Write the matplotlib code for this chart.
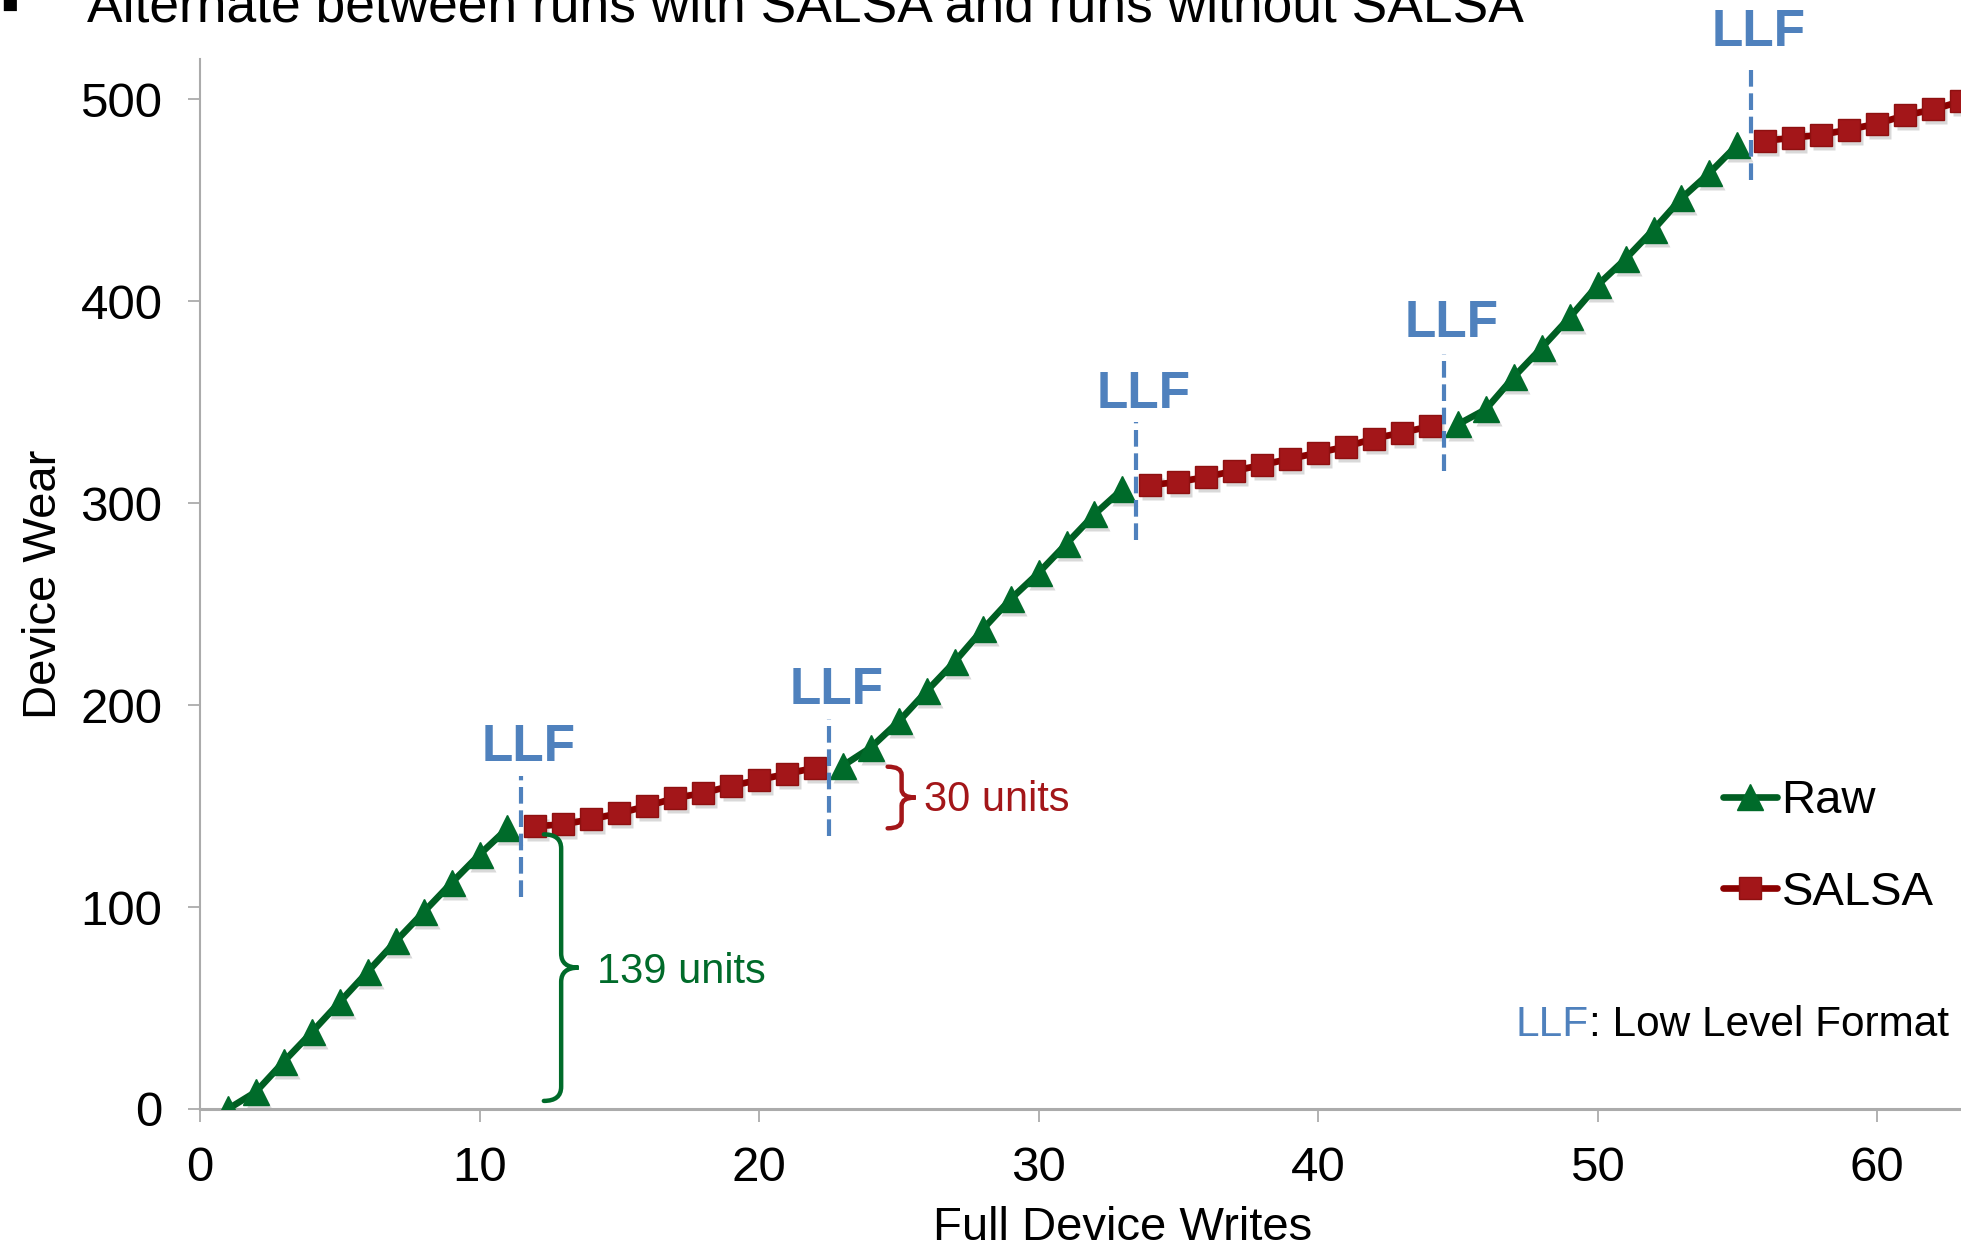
import numpy as np
import matplotlib
matplotlib.use("Agg")
import matplotlib.pyplot as plt
from matplotlib.path import Path
from matplotlib.patches import PathPatch
from matplotlib import transforms

plt.rcParams['font.family'] = ['Liberation Sans', 'DejaVu Sans']

# data
writes = np.arange(1, 64)
wear = np.array([
    0, 8.5, 23.5, 38, 53, 68, 83, 97.5, 112, 126, 139,              # raw
    140, 141, 143.5, 146.5, 150, 154, 156.5, 160, 163, 166, 169,    # salsa
    170, 179, 192, 207, 221.5, 237.5, 252.5, 265.5, 280, 294.5, 307,  # raw
    309, 310.5, 313, 316, 319, 322, 325, 328, 332, 335, 338,        # salsa
    339, 346.5, 362.5, 377, 392, 408, 421, 435.5, 451, 463.5, 477.5,  # raw
    479.5, 481, 482.5, 485, 488, 492, 495, 499,                     # salsa
])
salsa_on = np.array([0]*11 + [1]*11 + [0]*11 + [1]*11 + [0]*11 + [1]*8, dtype=bool)

llf_x = [11.5, 22.5, 33.5, 44.5, 55.5]
llf_lo = [105, 135, 282, 316, 460]
llf_hi = [165, 193, 340, 374, 516]
llf_label_y = [179, 207, 354, 389, 533]

x_ticks = [0, 10, 20, 30, 40, 50, 60]
y_ticks = [0, 100, 200, 300, 400, 500]

GREEN = '#006B2A'
GREEN_LINE = '#005E22'
RED = '#A31619'
RED_LINE = '#8B0000'
BLUE = '#4F81BD'
GRAY = '#ABABAB'

raw = np.where(~salsa_on, wear, np.nan)
salsa = np.where(salsa_on, wear, np.nan)

fig = plt.figure(figsize=(19.61, 12.49), dpi=100)
ax = fig.add_axes([0.102, 0.1121, 0.898, 0.8407])

# soft marker shadows
shadow = transforms.offset_copy(ax.transData, fig=fig, x=3, y=-4, units='dots')
ax.plot(writes, raw, ls='none', marker='^', ms=19, color='#000000', alpha=0.15,
        mec='none', transform=shadow, zorder=2)
ax.plot(writes, salsa, ls='none', marker='s', ms=16.5, color='#000000', alpha=0.15,
        mec='none', transform=shadow, zorder=2)

ax.plot(writes, raw, color=GREEN_LINE, lw=4.8, marker='^', ms=19, mfc=GREEN,
        mec=GREEN, label='Raw', zorder=3, solid_capstyle='round')
ax.plot(writes, salsa, color=RED_LINE, lw=4.8, marker='s', ms=16.5, mfc=RED,
        mec='#8E1010', mew=1, label='SALSA', zorder=3, solid_capstyle='round')

for x, lo, hi, ly in zip(llf_x, llf_lo, llf_hi, llf_label_y):
    ax.plot([x, x], [lo, hi], color=BLUE, lw=3, dashes=(4, 1.6), zorder=4, clip_on=False)
    ax.text(x + 0.27, ly, 'LLF', color=BLUE, fontsize=37, fontweight='bold',
            ha='center', va='center', clip_on=False)


def brace(x0, y0, y1, w, r, color):
    ym = (y0 + y1) / 2
    verts = [(x0, y1), (x0 + w, y1), (x0 + w, y1 - r),
             (x0 + w, ym + r),
             (x0 + w, ym), (x0 + 2 * w, ym),
             (x0 + w, ym), (x0 + w, ym - r),
             (x0 + w, y0 + r),
             (x0 + w, y0), (x0, y0)]
    codes = [Path.MOVETO, Path.CURVE3, Path.CURVE3, Path.LINETO,
             Path.CURVE3, Path.CURVE3, Path.CURVE3, Path.CURVE3,
             Path.LINETO, Path.CURVE3, Path.CURVE3]
    ax.add_patch(PathPatch(Path(verts, codes), fill=False, ec=color, lw=3.2,
                           capstyle='round', zorder=3))


brace(12.3, 4, 136, 0.62, 7, GREEN)
ax.text(14.2, 68, '139 units', color=GREEN, fontsize=30, va='center', ha='left')
brace(24.6, 139, 169.5, 0.5, 4, RED)
ax.text(25.9, 153, '30 units', color=RED, fontsize=30, va='center', ha='left')

ax.set_xlim(0, 63)
ax.set_ylim(0, 520)
ax.set_xticks(x_ticks)
ax.set_yticks(y_ticks)
ax.tick_params(axis='both', labelsize=35.5, length=9, width=1.3, color=GRAY, pad=18)
for side in ('top', 'right'):
    ax.spines[side].set_visible(False)
for side in ('left', 'bottom'):
    ax.spines[side].set_color(GRAY)
    ax.spines[side].set_linewidth(1.5)
ax.spines['bottom'].set_linewidth(2.2)

ax.set_ylabel('Device Wear', fontsize=34)
ax.yaxis.set_label_coords(-0.0886, 0.5)
ax.set_xlabel('Full Device Writes', fontsize=34)
ax.xaxis.set_label_coords(0.524, -0.113)
ax.xaxis.label.set_va('center')
ax.yaxis.label.set_va('center')

ax.legend(loc='center left', bbox_to_anchor=(0.8646, 0.2495), frameon=False,
          fontsize=34, handlelength=1.15, handletextpad=0.1, labelspacing=1.0,
          borderpad=0, borderaxespad=0)

llf_note = ax.text(0.747, 0.080, 'LLF', color=BLUE, fontsize=30.5,
                   transform=ax.transAxes, ha='left', va='center')
ax.annotate(': Low Level Format', xy=(1, 0.5), xycoords=llf_note, color='black',
            fontsize=30.5, ha='left', va='center')

fig.text(0.0, 0.983, '\u25aa', fontsize=38, ha='left', va='baseline')
fig.text(0.0446, 0.983, 'Alternate between runs with SALSA and runs without SALSA',
         fontsize=38.4, ha='left', va='baseline')

fig.savefig('out.png', dpi=100)
